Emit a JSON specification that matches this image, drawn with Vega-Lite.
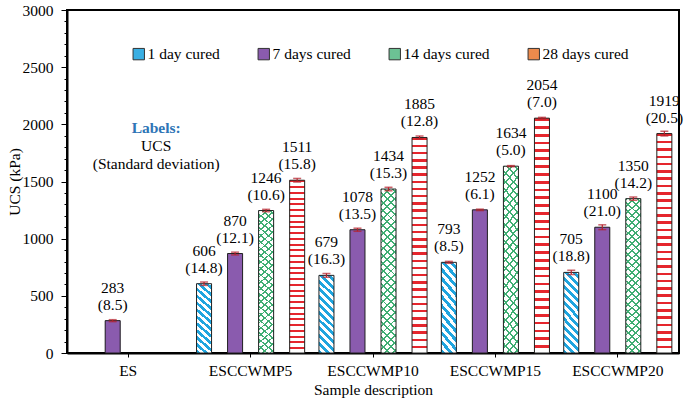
{
  "$schema": "https://vega.github.io/schema/vega-lite/v6.json",
  "width": 612,
  "height": 343,
  "autosize": {"type": "none"},
  "padding": {"left": 67, "top": 10, "right": 6, "bottom": 53},
  "background": "white",
  "config": {
    "font": "Liberation Serif",
    "view": {"stroke": "black", "strokeWidth": 2},
    "axis": {
      "labelFont": "Liberation Serif", "titleFont": "Liberation Serif",
      "labelFontSize": 15.5, "titleFontSize": 15.5, "titleFontWeight": "normal",
      "labelColor": "black", "titleColor": "black",
      "domainColor": "black", "tickColor": "black", "domainWidth": 2, "tickWidth": 1, "grid": false
    },
    "legend": {
      "orient": "none", "legendX": 64, "legendY": 36, "direction": "horizontal",
      "symbolType": "square", "symbolSize": 130, "labelFont": "Liberation Serif",
      "labelFontSize": 15.5, "labelColor": "black", "columnPadding": 36, "labelOffset": 1,
      "symbolStrokeColor": "#333333", "symbolStrokeWidth": 1
    }
  },
  "datasets": {
    "ucs": [
      {"sample": "ES", "series": "7 days cured", "ucs": 283, "sd": 8.5},
      {"sample": "ESCCWMP5", "series": "1 day cured", "ucs": 606, "sd": 14.8},
      {"sample": "ESCCWMP5", "series": "7 days cured", "ucs": 870, "sd": 12.1},
      {"sample": "ESCCWMP5", "series": "14 days cured", "ucs": 1246, "sd": 10.6},
      {"sample": "ESCCWMP5", "series": "28 days cured", "ucs": 1511, "sd": 15.8},
      {"sample": "ESCCWMP10", "series": "1 day cured", "ucs": 679, "sd": 16.3},
      {"sample": "ESCCWMP10", "series": "7 days cured", "ucs": 1078, "sd": 13.5},
      {"sample": "ESCCWMP10", "series": "14 days cured", "ucs": 1434, "sd": 15.3},
      {"sample": "ESCCWMP10", "series": "28 days cured", "ucs": 1885, "sd": 12.8},
      {"sample": "ESCCWMP15", "series": "1 day cured", "ucs": 793, "sd": 8.5},
      {"sample": "ESCCWMP15", "series": "7 days cured", "ucs": 1252, "sd": 6.1},
      {"sample": "ESCCWMP15", "series": "14 days cured", "ucs": 1634, "sd": 5.0},
      {"sample": "ESCCWMP15", "series": "28 days cured", "ucs": 2054, "sd": 7.0},
      {"sample": "ESCCWMP20", "series": "1 day cured", "ucs": 705, "sd": 18.8},
      {"sample": "ESCCWMP20", "series": "7 days cured", "ucs": 1100, "sd": 21.0},
      {"sample": "ESCCWMP20", "series": "14 days cured", "ucs": 1350, "sd": 14.2},
      {"sample": "ESCCWMP20", "series": "28 days cured", "ucs": 1919, "sd": 20.5}
    ]
  },
  "encoding": {
    "x": {
      "field": "sample", "type": "nominal", "title": "Sample description",
      "scale": {"domain": ["ES", "ESCCWMP5", "ESCCWMP10", "ESCCWMP15", "ESCCWMP20"], "paddingInner": 0, "paddingOuter": 0},
      "axis": {"labelAngle": 0, "ticks": true, "tickSize": 4, "labelPadding": 6, "titlePadding": 4}
    },
    "y": {
      "field": "ucs", "type": "quantitative", "title": "UCS (kPa)",
      "scale": {"domain": [0, 3000], "nice": false, "zero": true},
      "axis": {
        "values": [0,100,200,300,400,500,600,700,800,900,1000,1100,1200,1300,1400,1500,1600,1700,1800,1900,2000,2100,2200,2300,2400,2500,2600,2700,2800,2900,3000],
        "format": "d",
        "labelExpr": "datum.value % 500 === 0 ? datum.label : ''",
        "tickSize": {"condition": {"test": "datum.value % 500 === 0", "value": 6}, "value": 3},
        "labelPadding": 8, "titlePadding": 0
      }
    }
  },
  "layer": [
    {
      "data": {"name": "ucs"},
      "mark": {"type": "bar", "strokeWidth": 0},
      "encoding": {
        "xOffset": {"field": "series", "type": "nominal", "scale": {"domain": ["1 day cured", "7 days cured", "14 days cured", "28 days cured"], "paddingInner": 0.516, "paddingOuter": 0.23}},
        "fill": {
          "field": "series", "type": "nominal", "title": null,
          "scale": {"domain": ["1 day cured", "7 days cured", "14 days cured", "28 days cured"], "range": ["#3AAFE3", "#8A5BAE", "#6CC294", "#EC8A4C"]},
          "legend": {"title": null}
        }
      }
    },
    {
      "data": {"name": "ucs"},
      "transform": [{"filter": "datum.series === '1 day cured'"}],
      "mark": {"type": "bar", "stroke": "#222222", "strokeWidth": 1,
        "fill": {"gradient": "linear", "x1": 0, "y1": 1, "x2": 0.22, "y2": -0.16, "stops": [
          {"offset": 0, "color": "#1FA5DF"}, {"offset": 0.04167, "color": "#1FA5DF"}, {"offset": 0.04167, "color": "#ffffff"}, {"offset": 0.08333, "color": "#ffffff"},
          {"offset": 0.08333, "color": "#1FA5DF"}, {"offset": 0.125, "color": "#1FA5DF"}, {"offset": 0.125, "color": "#ffffff"}, {"offset": 0.16667, "color": "#ffffff"},
          {"offset": 0.16667, "color": "#1FA5DF"}, {"offset": 0.20833, "color": "#1FA5DF"}, {"offset": 0.20833, "color": "#ffffff"}, {"offset": 0.25, "color": "#ffffff"},
          {"offset": 0.25, "color": "#1FA5DF"}, {"offset": 0.29167, "color": "#1FA5DF"}, {"offset": 0.29167, "color": "#ffffff"}, {"offset": 0.33333, "color": "#ffffff"},
          {"offset": 0.33333, "color": "#1FA5DF"}, {"offset": 0.375, "color": "#1FA5DF"}, {"offset": 0.375, "color": "#ffffff"}, {"offset": 0.41667, "color": "#ffffff"},
          {"offset": 0.41667, "color": "#1FA5DF"}, {"offset": 0.45833, "color": "#1FA5DF"}, {"offset": 0.45833, "color": "#ffffff"}, {"offset": 0.5, "color": "#ffffff"},
          {"offset": 0.5, "color": "#1FA5DF"}, {"offset": 0.54167, "color": "#1FA5DF"}, {"offset": 0.54167, "color": "#ffffff"}, {"offset": 0.58333, "color": "#ffffff"},
          {"offset": 0.58333, "color": "#1FA5DF"}, {"offset": 0.625, "color": "#1FA5DF"}, {"offset": 0.625, "color": "#ffffff"}, {"offset": 0.66667, "color": "#ffffff"},
          {"offset": 0.66667, "color": "#1FA5DF"}, {"offset": 0.70833, "color": "#1FA5DF"}, {"offset": 0.70833, "color": "#ffffff"}, {"offset": 0.75, "color": "#ffffff"},
          {"offset": 0.75, "color": "#1FA5DF"}, {"offset": 0.79167, "color": "#1FA5DF"}, {"offset": 0.79167, "color": "#ffffff"}, {"offset": 0.83333, "color": "#ffffff"},
          {"offset": 0.83333, "color": "#1FA5DF"}, {"offset": 0.875, "color": "#1FA5DF"}, {"offset": 0.875, "color": "#ffffff"}, {"offset": 0.91667, "color": "#ffffff"},
          {"offset": 0.91667, "color": "#1FA5DF"}, {"offset": 0.95833, "color": "#1FA5DF"}, {"offset": 0.95833, "color": "#ffffff"}, {"offset": 1, "color": "#ffffff"}]}},
      "encoding": {
        "xOffset": {"field": "series", "type": "nominal", "scale": {"domain": ["1 day cured", "7 days cured", "14 days cured", "28 days cured"], "paddingInner": 0.516, "paddingOuter": 0.23}}
      }
    },
    {
      "data": {"name": "ucs"},
      "transform": [{"filter": "datum.series === '7 days cured'"}],
      "mark": {"type": "bar", "stroke": "#222222", "strokeWidth": 1, "fill": "#8A5BAE"},
      "encoding": {
        "xOffset": {"field": "series", "type": "nominal", "scale": {"domain": ["1 day cured", "7 days cured", "14 days cured", "28 days cured"], "paddingInner": 0.516, "paddingOuter": 0.23}}
      }
    },
    {
      "data": {"name": "ucs"},
      "transform": [{"filter": "datum.series === '14 days cured'"}],
      "mark": {"type": "bar", "strokeWidth": 0,
        "fill": {"gradient": "linear", "x1": 0, "y1": 1, "x2": 0.1, "y2": -0.1, "stops": [
          {"offset": 0, "color": "#3FAE73"}, {"offset": 0.01042, "color": "#3FAE73"}, {"offset": 0.01042, "color": "#ffffff"}, {"offset": 0.04167, "color": "#ffffff"},
          {"offset": 0.04167, "color": "#3FAE73"}, {"offset": 0.05208, "color": "#3FAE73"}, {"offset": 0.05208, "color": "#ffffff"}, {"offset": 0.08333, "color": "#ffffff"},
          {"offset": 0.08333, "color": "#3FAE73"}, {"offset": 0.09375, "color": "#3FAE73"}, {"offset": 0.09375, "color": "#ffffff"}, {"offset": 0.125, "color": "#ffffff"},
          {"offset": 0.125, "color": "#3FAE73"}, {"offset": 0.13542, "color": "#3FAE73"}, {"offset": 0.13542, "color": "#ffffff"}, {"offset": 0.16667, "color": "#ffffff"},
          {"offset": 0.16667, "color": "#3FAE73"}, {"offset": 0.17708, "color": "#3FAE73"}, {"offset": 0.17708, "color": "#ffffff"}, {"offset": 0.20833, "color": "#ffffff"},
          {"offset": 0.20833, "color": "#3FAE73"}, {"offset": 0.21875, "color": "#3FAE73"}, {"offset": 0.21875, "color": "#ffffff"}, {"offset": 0.25, "color": "#ffffff"},
          {"offset": 0.25, "color": "#3FAE73"}, {"offset": 0.26042, "color": "#3FAE73"}, {"offset": 0.26042, "color": "#ffffff"}, {"offset": 0.29167, "color": "#ffffff"},
          {"offset": 0.29167, "color": "#3FAE73"}, {"offset": 0.30208, "color": "#3FAE73"}, {"offset": 0.30208, "color": "#ffffff"}, {"offset": 0.33333, "color": "#ffffff"},
          {"offset": 0.33333, "color": "#3FAE73"}, {"offset": 0.34375, "color": "#3FAE73"}, {"offset": 0.34375, "color": "#ffffff"}, {"offset": 0.375, "color": "#ffffff"},
          {"offset": 0.375, "color": "#3FAE73"}, {"offset": 0.38542, "color": "#3FAE73"}, {"offset": 0.38542, "color": "#ffffff"}, {"offset": 0.41667, "color": "#ffffff"},
          {"offset": 0.41667, "color": "#3FAE73"}, {"offset": 0.42708, "color": "#3FAE73"}, {"offset": 0.42708, "color": "#ffffff"}, {"offset": 0.45833, "color": "#ffffff"},
          {"offset": 0.45833, "color": "#3FAE73"}, {"offset": 0.46875, "color": "#3FAE73"}, {"offset": 0.46875, "color": "#ffffff"}, {"offset": 0.5, "color": "#ffffff"},
          {"offset": 0.5, "color": "#3FAE73"}, {"offset": 0.51042, "color": "#3FAE73"}, {"offset": 0.51042, "color": "#ffffff"}, {"offset": 0.54167, "color": "#ffffff"},
          {"offset": 0.54167, "color": "#3FAE73"}, {"offset": 0.55208, "color": "#3FAE73"}, {"offset": 0.55208, "color": "#ffffff"}, {"offset": 0.58333, "color": "#ffffff"},
          {"offset": 0.58333, "color": "#3FAE73"}, {"offset": 0.59375, "color": "#3FAE73"}, {"offset": 0.59375, "color": "#ffffff"}, {"offset": 0.625, "color": "#ffffff"},
          {"offset": 0.625, "color": "#3FAE73"}, {"offset": 0.63542, "color": "#3FAE73"}, {"offset": 0.63542, "color": "#ffffff"}, {"offset": 0.66667, "color": "#ffffff"},
          {"offset": 0.66667, "color": "#3FAE73"}, {"offset": 0.67708, "color": "#3FAE73"}, {"offset": 0.67708, "color": "#ffffff"}, {"offset": 0.70833, "color": "#ffffff"},
          {"offset": 0.70833, "color": "#3FAE73"}, {"offset": 0.71875, "color": "#3FAE73"}, {"offset": 0.71875, "color": "#ffffff"}, {"offset": 0.75, "color": "#ffffff"},
          {"offset": 0.75, "color": "#3FAE73"}, {"offset": 0.76042, "color": "#3FAE73"}, {"offset": 0.76042, "color": "#ffffff"}, {"offset": 0.79167, "color": "#ffffff"},
          {"offset": 0.79167, "color": "#3FAE73"}, {"offset": 0.80208, "color": "#3FAE73"}, {"offset": 0.80208, "color": "#ffffff"}, {"offset": 0.83333, "color": "#ffffff"},
          {"offset": 0.83333, "color": "#3FAE73"}, {"offset": 0.84375, "color": "#3FAE73"}, {"offset": 0.84375, "color": "#ffffff"}, {"offset": 0.875, "color": "#ffffff"},
          {"offset": 0.875, "color": "#3FAE73"}, {"offset": 0.88542, "color": "#3FAE73"}, {"offset": 0.88542, "color": "#ffffff"}, {"offset": 0.91667, "color": "#ffffff"},
          {"offset": 0.91667, "color": "#3FAE73"}, {"offset": 0.92708, "color": "#3FAE73"}, {"offset": 0.92708, "color": "#ffffff"}, {"offset": 0.95833, "color": "#ffffff"},
          {"offset": 0.95833, "color": "#3FAE73"}, {"offset": 0.96875, "color": "#3FAE73"}, {"offset": 0.96875, "color": "#ffffff"}, {"offset": 1, "color": "#ffffff"}]}},
      "encoding": {
        "xOffset": {"field": "series", "type": "nominal", "scale": {"domain": ["1 day cured", "7 days cured", "14 days cured", "28 days cured"], "paddingInner": 0.516, "paddingOuter": 0.23}}
      }
    },
    {
      "data": {"name": "ucs"},
      "transform": [{"filter": "datum.series === '14 days cured'"}],
      "mark": {"type": "bar", "stroke": "#222222", "strokeWidth": 1,
        "fill": {"gradient": "linear", "x1": 0, "y1": 0, "x2": 0.1, "y2": 1.1, "stops": [
          {"offset": 0, "color": "#3FAE73"}, {"offset": 0.01042, "color": "#3FAE73"}, {"offset": 0.01042, "color": "rgba(255,255,255,0)"}, {"offset": 0.04167, "color": "rgba(255,255,255,0)"},
          {"offset": 0.04167, "color": "#3FAE73"}, {"offset": 0.05208, "color": "#3FAE73"}, {"offset": 0.05208, "color": "rgba(255,255,255,0)"}, {"offset": 0.08333, "color": "rgba(255,255,255,0)"},
          {"offset": 0.08333, "color": "#3FAE73"}, {"offset": 0.09375, "color": "#3FAE73"}, {"offset": 0.09375, "color": "rgba(255,255,255,0)"}, {"offset": 0.125, "color": "rgba(255,255,255,0)"},
          {"offset": 0.125, "color": "#3FAE73"}, {"offset": 0.13542, "color": "#3FAE73"}, {"offset": 0.13542, "color": "rgba(255,255,255,0)"}, {"offset": 0.16667, "color": "rgba(255,255,255,0)"},
          {"offset": 0.16667, "color": "#3FAE73"}, {"offset": 0.17708, "color": "#3FAE73"}, {"offset": 0.17708, "color": "rgba(255,255,255,0)"}, {"offset": 0.20833, "color": "rgba(255,255,255,0)"},
          {"offset": 0.20833, "color": "#3FAE73"}, {"offset": 0.21875, "color": "#3FAE73"}, {"offset": 0.21875, "color": "rgba(255,255,255,0)"}, {"offset": 0.25, "color": "rgba(255,255,255,0)"},
          {"offset": 0.25, "color": "#3FAE73"}, {"offset": 0.26042, "color": "#3FAE73"}, {"offset": 0.26042, "color": "rgba(255,255,255,0)"}, {"offset": 0.29167, "color": "rgba(255,255,255,0)"},
          {"offset": 0.29167, "color": "#3FAE73"}, {"offset": 0.30208, "color": "#3FAE73"}, {"offset": 0.30208, "color": "rgba(255,255,255,0)"}, {"offset": 0.33333, "color": "rgba(255,255,255,0)"},
          {"offset": 0.33333, "color": "#3FAE73"}, {"offset": 0.34375, "color": "#3FAE73"}, {"offset": 0.34375, "color": "rgba(255,255,255,0)"}, {"offset": 0.375, "color": "rgba(255,255,255,0)"},
          {"offset": 0.375, "color": "#3FAE73"}, {"offset": 0.38542, "color": "#3FAE73"}, {"offset": 0.38542, "color": "rgba(255,255,255,0)"}, {"offset": 0.41667, "color": "rgba(255,255,255,0)"},
          {"offset": 0.41667, "color": "#3FAE73"}, {"offset": 0.42708, "color": "#3FAE73"}, {"offset": 0.42708, "color": "rgba(255,255,255,0)"}, {"offset": 0.45833, "color": "rgba(255,255,255,0)"},
          {"offset": 0.45833, "color": "#3FAE73"}, {"offset": 0.46875, "color": "#3FAE73"}, {"offset": 0.46875, "color": "rgba(255,255,255,0)"}, {"offset": 0.5, "color": "rgba(255,255,255,0)"},
          {"offset": 0.5, "color": "#3FAE73"}, {"offset": 0.51042, "color": "#3FAE73"}, {"offset": 0.51042, "color": "rgba(255,255,255,0)"}, {"offset": 0.54167, "color": "rgba(255,255,255,0)"},
          {"offset": 0.54167, "color": "#3FAE73"}, {"offset": 0.55208, "color": "#3FAE73"}, {"offset": 0.55208, "color": "rgba(255,255,255,0)"}, {"offset": 0.58333, "color": "rgba(255,255,255,0)"},
          {"offset": 0.58333, "color": "#3FAE73"}, {"offset": 0.59375, "color": "#3FAE73"}, {"offset": 0.59375, "color": "rgba(255,255,255,0)"}, {"offset": 0.625, "color": "rgba(255,255,255,0)"},
          {"offset": 0.625, "color": "#3FAE73"}, {"offset": 0.63542, "color": "#3FAE73"}, {"offset": 0.63542, "color": "rgba(255,255,255,0)"}, {"offset": 0.66667, "color": "rgba(255,255,255,0)"},
          {"offset": 0.66667, "color": "#3FAE73"}, {"offset": 0.67708, "color": "#3FAE73"}, {"offset": 0.67708, "color": "rgba(255,255,255,0)"}, {"offset": 0.70833, "color": "rgba(255,255,255,0)"},
          {"offset": 0.70833, "color": "#3FAE73"}, {"offset": 0.71875, "color": "#3FAE73"}, {"offset": 0.71875, "color": "rgba(255,255,255,0)"}, {"offset": 0.75, "color": "rgba(255,255,255,0)"},
          {"offset": 0.75, "color": "#3FAE73"}, {"offset": 0.76042, "color": "#3FAE73"}, {"offset": 0.76042, "color": "rgba(255,255,255,0)"}, {"offset": 0.79167, "color": "rgba(255,255,255,0)"},
          {"offset": 0.79167, "color": "#3FAE73"}, {"offset": 0.80208, "color": "#3FAE73"}, {"offset": 0.80208, "color": "rgba(255,255,255,0)"}, {"offset": 0.83333, "color": "rgba(255,255,255,0)"},
          {"offset": 0.83333, "color": "#3FAE73"}, {"offset": 0.84375, "color": "#3FAE73"}, {"offset": 0.84375, "color": "rgba(255,255,255,0)"}, {"offset": 0.875, "color": "rgba(255,255,255,0)"},
          {"offset": 0.875, "color": "#3FAE73"}, {"offset": 0.88542, "color": "#3FAE73"}, {"offset": 0.88542, "color": "rgba(255,255,255,0)"}, {"offset": 0.91667, "color": "rgba(255,255,255,0)"},
          {"offset": 0.91667, "color": "#3FAE73"}, {"offset": 0.92708, "color": "#3FAE73"}, {"offset": 0.92708, "color": "rgba(255,255,255,0)"}, {"offset": 0.95833, "color": "rgba(255,255,255,0)"},
          {"offset": 0.95833, "color": "#3FAE73"}, {"offset": 0.96875, "color": "#3FAE73"}, {"offset": 0.96875, "color": "rgba(255,255,255,0)"}, {"offset": 1, "color": "rgba(255,255,255,0)"}]}},
      "encoding": {
        "xOffset": {"field": "series", "type": "nominal", "scale": {"domain": ["1 day cured", "7 days cured", "14 days cured", "28 days cured"], "paddingInner": 0.516, "paddingOuter": 0.23}}
      }
    },
    {
      "data": {"name": "ucs"},
      "transform": [{"filter": "datum.series === '28 days cured'"}],
      "mark": {"type": "bar", "stroke": "#222222", "strokeWidth": 1,
        "fill": {"gradient": "linear", "x1": 0, "y1": 0, "x2": 0, "y2": 1, "stops": [
          {"offset": 0, "color": "#E5262D"}, {"offset": 0.01167, "color": "#E5262D"}, {"offset": 0.01167, "color": "#ffffff"}, {"offset": 0.03333, "color": "#ffffff"},
          {"offset": 0.03333, "color": "#E5262D"}, {"offset": 0.045, "color": "#E5262D"}, {"offset": 0.045, "color": "#ffffff"}, {"offset": 0.06667, "color": "#ffffff"},
          {"offset": 0.06667, "color": "#E5262D"}, {"offset": 0.07833, "color": "#E5262D"}, {"offset": 0.07833, "color": "#ffffff"}, {"offset": 0.1, "color": "#ffffff"},
          {"offset": 0.1, "color": "#E5262D"}, {"offset": 0.11167, "color": "#E5262D"}, {"offset": 0.11167, "color": "#ffffff"}, {"offset": 0.13333, "color": "#ffffff"},
          {"offset": 0.13333, "color": "#E5262D"}, {"offset": 0.145, "color": "#E5262D"}, {"offset": 0.145, "color": "#ffffff"}, {"offset": 0.16667, "color": "#ffffff"},
          {"offset": 0.16667, "color": "#E5262D"}, {"offset": 0.17833, "color": "#E5262D"}, {"offset": 0.17833, "color": "#ffffff"}, {"offset": 0.2, "color": "#ffffff"},
          {"offset": 0.2, "color": "#E5262D"}, {"offset": 0.21167, "color": "#E5262D"}, {"offset": 0.21167, "color": "#ffffff"}, {"offset": 0.23333, "color": "#ffffff"},
          {"offset": 0.23333, "color": "#E5262D"}, {"offset": 0.245, "color": "#E5262D"}, {"offset": 0.245, "color": "#ffffff"}, {"offset": 0.26667, "color": "#ffffff"},
          {"offset": 0.26667, "color": "#E5262D"}, {"offset": 0.27833, "color": "#E5262D"}, {"offset": 0.27833, "color": "#ffffff"}, {"offset": 0.3, "color": "#ffffff"},
          {"offset": 0.3, "color": "#E5262D"}, {"offset": 0.31167, "color": "#E5262D"}, {"offset": 0.31167, "color": "#ffffff"}, {"offset": 0.33333, "color": "#ffffff"},
          {"offset": 0.33333, "color": "#E5262D"}, {"offset": 0.345, "color": "#E5262D"}, {"offset": 0.345, "color": "#ffffff"}, {"offset": 0.36667, "color": "#ffffff"},
          {"offset": 0.36667, "color": "#E5262D"}, {"offset": 0.37833, "color": "#E5262D"}, {"offset": 0.37833, "color": "#ffffff"}, {"offset": 0.4, "color": "#ffffff"},
          {"offset": 0.4, "color": "#E5262D"}, {"offset": 0.41167, "color": "#E5262D"}, {"offset": 0.41167, "color": "#ffffff"}, {"offset": 0.43333, "color": "#ffffff"},
          {"offset": 0.43333, "color": "#E5262D"}, {"offset": 0.445, "color": "#E5262D"}, {"offset": 0.445, "color": "#ffffff"}, {"offset": 0.46667, "color": "#ffffff"},
          {"offset": 0.46667, "color": "#E5262D"}, {"offset": 0.47833, "color": "#E5262D"}, {"offset": 0.47833, "color": "#ffffff"}, {"offset": 0.5, "color": "#ffffff"},
          {"offset": 0.5, "color": "#E5262D"}, {"offset": 0.51167, "color": "#E5262D"}, {"offset": 0.51167, "color": "#ffffff"}, {"offset": 0.53333, "color": "#ffffff"},
          {"offset": 0.53333, "color": "#E5262D"}, {"offset": 0.545, "color": "#E5262D"}, {"offset": 0.545, "color": "#ffffff"}, {"offset": 0.56667, "color": "#ffffff"},
          {"offset": 0.56667, "color": "#E5262D"}, {"offset": 0.57833, "color": "#E5262D"}, {"offset": 0.57833, "color": "#ffffff"}, {"offset": 0.6, "color": "#ffffff"},
          {"offset": 0.6, "color": "#E5262D"}, {"offset": 0.61167, "color": "#E5262D"}, {"offset": 0.61167, "color": "#ffffff"}, {"offset": 0.63333, "color": "#ffffff"},
          {"offset": 0.63333, "color": "#E5262D"}, {"offset": 0.645, "color": "#E5262D"}, {"offset": 0.645, "color": "#ffffff"}, {"offset": 0.66667, "color": "#ffffff"},
          {"offset": 0.66667, "color": "#E5262D"}, {"offset": 0.67833, "color": "#E5262D"}, {"offset": 0.67833, "color": "#ffffff"}, {"offset": 0.7, "color": "#ffffff"},
          {"offset": 0.7, "color": "#E5262D"}, {"offset": 0.71167, "color": "#E5262D"}, {"offset": 0.71167, "color": "#ffffff"}, {"offset": 0.73333, "color": "#ffffff"},
          {"offset": 0.73333, "color": "#E5262D"}, {"offset": 0.745, "color": "#E5262D"}, {"offset": 0.745, "color": "#ffffff"}, {"offset": 0.76667, "color": "#ffffff"},
          {"offset": 0.76667, "color": "#E5262D"}, {"offset": 0.77833, "color": "#E5262D"}, {"offset": 0.77833, "color": "#ffffff"}, {"offset": 0.8, "color": "#ffffff"},
          {"offset": 0.8, "color": "#E5262D"}, {"offset": 0.81167, "color": "#E5262D"}, {"offset": 0.81167, "color": "#ffffff"}, {"offset": 0.83333, "color": "#ffffff"},
          {"offset": 0.83333, "color": "#E5262D"}, {"offset": 0.845, "color": "#E5262D"}, {"offset": 0.845, "color": "#ffffff"}, {"offset": 0.86667, "color": "#ffffff"},
          {"offset": 0.86667, "color": "#E5262D"}, {"offset": 0.87833, "color": "#E5262D"}, {"offset": 0.87833, "color": "#ffffff"}, {"offset": 0.9, "color": "#ffffff"},
          {"offset": 0.9, "color": "#E5262D"}, {"offset": 0.91167, "color": "#E5262D"}, {"offset": 0.91167, "color": "#ffffff"}, {"offset": 0.93333, "color": "#ffffff"},
          {"offset": 0.93333, "color": "#E5262D"}, {"offset": 0.945, "color": "#E5262D"}, {"offset": 0.945, "color": "#ffffff"}, {"offset": 0.96667, "color": "#ffffff"},
          {"offset": 0.96667, "color": "#E5262D"}, {"offset": 0.97833, "color": "#E5262D"}, {"offset": 0.97833, "color": "#ffffff"}, {"offset": 1, "color": "#ffffff"}]}},
      "encoding": {
        "xOffset": {"field": "series", "type": "nominal", "scale": {"domain": ["1 day cured", "7 days cured", "14 days cured", "28 days cured"], "paddingInner": 0.516, "paddingOuter": 0.23}}
      }
    },
    {
      "data": {"name": "ucs"},
      "transform": [{"calculate": "datum.ucs - datum.sd", "as": "lo"}, {"calculate": "datum.ucs + datum.sd", "as": "hi"}],
      "mark": {"type": "rule", "color": "#B3202A", "strokeWidth": 1.2},
      "encoding": {
        "xOffset": {"field": "series", "type": "nominal", "scale": {"domain": ["1 day cured", "7 days cured", "14 days cured", "28 days cured"], "paddingInner": 0.516, "paddingOuter": 0.23}},
        "y": {"field": "lo", "type": "quantitative", "title": "UCS (kPa)"},
        "y2": {"field": "hi"}
      }
    },
    {
      "data": {"name": "ucs"},
      "transform": [{"calculate": "datum.ucs - datum.sd", "as": "lo"}],
      "mark": {"type": "tick", "color": "#B3202A", "orient": "horizontal", "size": 8, "thickness": 1.5},
      "encoding": {
        "xOffset": {"field": "series", "type": "nominal", "scale": {"domain": ["1 day cured", "7 days cured", "14 days cured", "28 days cured"], "paddingInner": 0.516, "paddingOuter": 0.23}},
        "y": {"field": "lo", "type": "quantitative", "title": "UCS (kPa)"}
      }
    },
    {
      "data": {"name": "ucs"},
      "transform": [{"calculate": "datum.ucs + datum.sd", "as": "hi"}],
      "mark": {"type": "tick", "color": "#B3202A", "orient": "horizontal", "size": 8, "thickness": 1.5},
      "encoding": {
        "xOffset": {"field": "series", "type": "nominal", "scale": {"domain": ["1 day cured", "7 days cured", "14 days cured", "28 days cured"], "paddingInner": 0.516, "paddingOuter": 0.23}},
        "y": {"field": "hi", "type": "quantitative", "title": "UCS (kPa)"}
      }
    },
    {
      "data": {"name": "ucs"},
      "transform": [{"calculate": "datum.ucs + '\\n(' + format(datum.sd, '.1f') + ')'", "as": "label"}],
      "mark": {"type": "text", "font": "Liberation Serif", "fontSize": 15.5, "color": "black", "align": "center", "baseline": "bottom", "dy": -25, "lineBreak": "\n", "lineHeight": 17},
      "encoding": {
        "xOffset": {"field": "series", "type": "nominal", "scale": {"domain": ["1 day cured", "7 days cured", "14 days cured", "28 days cured"], "paddingInner": 0.516, "paddingOuter": 0.23}},
        "text": {"field": "label", "type": "nominal"}
      }
    },
    {
      "data": {"values": [{"sample": "ES", "ucs": 1924, "t": "Labels:"}]},
      "mark": {"type": "text", "font": "Liberation Serif", "fontSize": 15.5, "fontWeight": "bold", "color": "#2E75B6", "align": "center", "baseline": "alphabetic", "dx": 28},
      "encoding": {"text": {"field": "t", "type": "nominal"}}
    },
    {
      "data": {"values": [{"sample": "ES", "ucs": 1767, "t": "UCS"}, {"sample": "ES", "ucs": 1609, "t": "(Standard deviation)"}]},
      "mark": {"type": "text", "font": "Liberation Serif", "fontSize": 15.5, "color": "black", "align": "center", "baseline": "alphabetic", "dx": 28},
      "encoding": {"text": {"field": "t", "type": "nominal"}}
    }
  ]
}
